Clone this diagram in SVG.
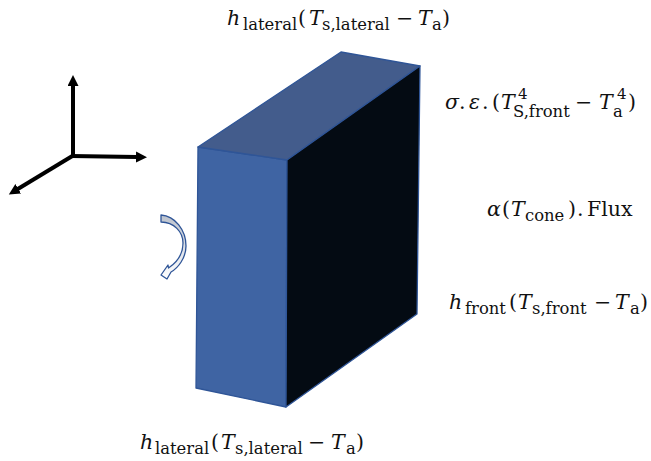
<svg xmlns="http://www.w3.org/2000/svg" width="651" height="461" viewBox="0 0 651 461">
<defs>
<marker id="ah" markerUnits="userSpaceOnUse" markerWidth="12" markerHeight="12" refX="1" refY="5.5" orient="auto"><path d="M0 0L11 5.5L0 11Z" fill="#000"/></marker>
<linearGradient id="crescent" x1="0" y1="0" x2="0" y2="1"><stop offset="0" stop-color="#bcc2cc"/><stop offset="0.55" stop-color="#dfe3ea"/><stop offset="1" stop-color="#ffffff"/></linearGradient>
</defs>
<style>
.f{stroke:#2f5597;stroke-width:1.3;stroke-linejoin:round}
.ax{stroke:#000;stroke-width:4;fill:none;marker-end:url(#ah)}
text{font-family:"DejaVu Serif","Liberation Serif",serif;font-size:20.5px;fill:#111}
.s{font-size:16.4px}
.p{font-size:15px}
.i{font-style:italic}
</style>
<rect width="651" height="461" fill="#fff"/>
<g id="block">
<polygon class="f" points="198,147 287,160 286,407 196,388" fill="#3f64a3"/>
<polygon class="f" points="198,147 341,52 420,66 287,160" fill="#435c8c"/>
<polygon class="f" points="287,160 420,66 417,314 286,407" fill="#040b13"/>
</g>
<g id="axes">
<line class="ax" x1="73" y1="158" x2="73" y2="85"/>
<line class="ax" x1="71" y1="156" x2="137" y2="157"/>
<line class="ax" x1="74" y1="155" x2="17.4" y2="189.3"/>
</g>
<g id="rotation-arrow">
<path d="M161 215C175 216 186 230 186 246C186 258 178 268 171 272L167 279L161 275L168 265L168.5 268C176 263 183 255 183 243C183 232 174 222 161 222Z" fill="url(#crescent)" stroke="#2f5597" stroke-width="1.3" stroke-linejoin="round"/>
</g>
<g id="label-top">
<text y="25"><tspan x="227" class="i">h</tspan><tspan x="243" y="30" class="s">lateral</tspan><tspan x="298" y="25">(</tspan><tspan x="309" class="i">T</tspan><tspan x="322" y="30" class="s">s,lateral</tspan><tspan x="396" y="25">−</tspan><tspan x="418" class="i">T</tspan><tspan x="432" y="30" class="s">a</tspan><tspan x="442" y="25">)</tspan></text>
</g>
<g id="label-radiation">
<text y="109"><tspan x="445" class="i">σ</tspan><tspan x="459">.</tspan><tspan x="469" class="i">ε</tspan><tspan x="482">.</tspan><tspan x="492">(</tspan><tspan x="501" class="i">T</tspan></text>
<text x="518" y="99" class="p">4</text>
<text x="513" y="117" class="s">S,front</text>
<text y="109"><tspan x="575">−</tspan><tspan x="599" class="i">T</tspan></text>
<text x="617" y="99" class="p">4</text>
<text x="613" y="117" class="s">a</text>
<text x="628" y="109">)</text>
</g>
<g id="label-flux">
<text y="216"><tspan x="487" class="i">α</tspan><tspan x="502">(</tspan><tspan x="511" class="i">T</tspan><tspan x="525" y="221" class="s">cone</tspan><tspan x="568" y="216">)</tspan><tspan x="577">.</tspan><tspan x="587">Flux</tspan></text>
</g>
<g id="label-front">
<text y="309"><tspan x="449" class="i">h</tspan><tspan x="465" y="314" class="s">front</tspan><tspan x="509" y="309">(</tspan><tspan x="518" class="i">T</tspan><tspan x="532" y="314" class="s">s,front</tspan><tspan x="594" y="309">−</tspan><tspan x="615" class="i">T</tspan><tspan x="630" y="314" class="s">a</tspan><tspan x="640" y="309">)</tspan></text>
</g>
<g id="label-bottom">
<text y="449"><tspan x="140" class="i">h</tspan><tspan x="155" y="454" class="s">lateral</tspan><tspan x="211" y="449">(</tspan><tspan x="221" class="i">T</tspan><tspan x="235" y="454" class="s">s,lateral</tspan><tspan x="308" y="449">−</tspan><tspan x="331" class="i">T</tspan><tspan x="346" y="454" class="s">a</tspan><tspan x="356" y="449">)</tspan></text>
</g>
</svg>
